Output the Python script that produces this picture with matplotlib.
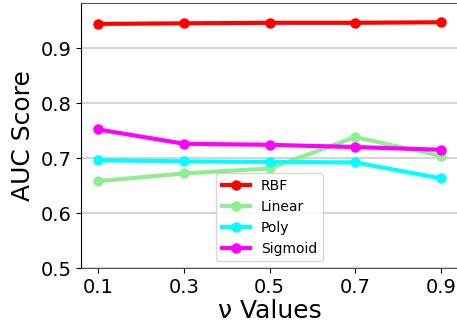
import matplotlib
matplotlib.use("Agg")
import matplotlib.pyplot as plt

nu_values = [0.1, 0.3, 0.5, 0.7, 0.9]
rbf = [0.944, 0.945, 0.946, 0.946, 0.947]
linear = [0.658, 0.672, 0.681, 0.738, 0.704]
poly = [0.696, 0.694, 0.693, 0.692, 0.663]
sigmoid = [0.752, 0.726, 0.724, 0.720, 0.715]

series = [
    ("RBF", rbf, "red"),
    ("Linear", linear, "lightgreen"),
    ("Poly", poly, "cyan"),
    ("Sigmoid", sigmoid, "magenta"),
]

fig = plt.figure(figsize=(4.57, 3.24), dpi=100)
ax = fig.add_axes([81 / 457, 1 - 268 / 324, 377 / 457, 265 / 324])

for name, vals, color in series:
    ax.plot(nu_values, vals, color=color, linewidth=3, marker="o",
            markersize=6.5, label=name)

ax.set_ylim(0.5, 0.982)
ax.set_xticks(nu_values)
ax.set_xticklabels([f"{v:.1f}" for v in nu_values])
ax.set_yticks([0.5, 0.6, 0.7, 0.8, 0.9])
ax.tick_params(labelsize=14)
ax.yaxis.grid(True, color="#cccccc", linewidth=1.2)
ax.set_axisbelow(True)
for side in ["top", "bottom", "right"]:
    ax.spines[side].set_color("#555555")
ax.spines["left"].set_color("black")

ax.set_xlabel("ν Values", fontsize=18, labelpad=2)
ax.set_ylabel("AUC Score", fontsize=18)
ax.legend(loc="lower center", fontsize=10)

fig.savefig("out.png", dpi=100)
